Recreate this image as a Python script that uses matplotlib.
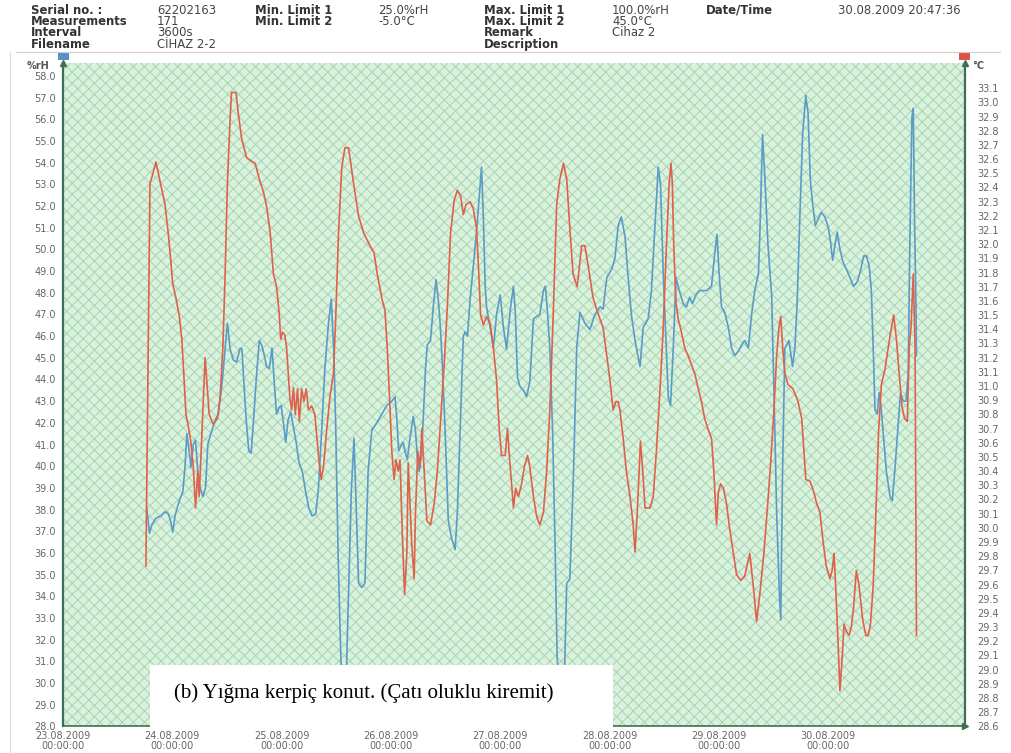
import matplotlib
matplotlib.use('Agg')
import matplotlib.pyplot as plt
from matplotlib.patches import Rectangle
from matplotlib.lines import Line2D

# hours counted from 23.08.2009 00:00:00, relative humidity (%rH, left axis)
blue_hours = [18.4, 19.0, 19.5, 20.4, 21.4, 22.4, 23.1, 23.6, 24.1, 24.6, 25.1, 25.7, 26.3, 26.8,
              27.2, 27.7, 28.1, 28.6, 29.1, 29.6, 30.1, 30.7, 31.3, 31.8, 32.6, 33.4, 34.1, 34.8,
              35.6, 36.1, 36.7, 37.4, 38.1, 38.9, 39.3, 39.7, 40.2, 40.8, 41.3, 41.8, 42.5, 43.1,
              43.7, 44.2, 44.7, 45.3, 45.9, 46.4, 46.9, 47.4, 47.9, 48.4, 48.9, 49.4, 50.0, 50.6,
              51.2, 51.8, 52.6, 53.3, 54.0, 54.7, 55.5, 56.1, 56.8, 57.5, 58.3, 58.9, 59.5, 59.9,
              60.4, 61.0, 61.5, 62.1, 62.7, 63.3, 63.9, 64.4, 64.9, 65.6, 66.3, 67.0, 67.8, 68.9,
              70.0, 71.1, 72.2, 72.9, 73.3, 73.7, 74.1, 74.7, 75.2, 75.6, 76.2, 76.9, 77.4, 77.8,
              78.2, 78.7, 79.1, 79.6, 80.0, 80.7, 81.3, 81.9, 82.4, 82.8, 83.3, 83.9, 84.6, 85.3,
              86.1, 86.6, 87.2, 87.9, 88.3, 88.8, 89.4, 90.1, 90.8, 91.6, 91.9, 92.3, 92.7, 93.0,
              93.8, 94.5, 95.2, 96.0, 96.7, 97.4, 98.2, 98.9, 99.3, 99.8, 100.3, 101.1, 101.8, 102.5,
              103.3, 104.0, 104.7, 105.5, 105.9, 106.3, 106.9, 107.5, 108.0, 108.5, 109.1, 110.0,
              110.6, 111.3, 112.1, 112.8, 113.5, 114.6, 115.7, 116.8, 117.9, 118.6, 119.4, 120.5,
              121.2, 121.9, 122.6, 123.4, 124.1, 124.8, 125.6, 126.7, 127.4, 128.5, 129.2, 130.0,
              130.7, 131.2, 131.8, 132.4, 132.9, 133.4, 134.0, 134.6, 135.3, 136.2, 136.9, 137.6,
              138.2, 139.0, 139.8, 140.6, 141.3, 142.4, 143.1, 143.6, 144.0, 144.6, 145.3, 146.1,
              146.8, 147.5, 148.3, 149.0, 149.7, 150.5, 151.2, 151.9, 152.7, 153.0, 153.6, 154.1,
              154.8, 155.6, 156.1, 156.7, 157.3, 157.6, 158.0, 158.5, 158.9, 159.4, 160.2, 160.7,
              161.2, 161.8, 162.4, 163.1, 163.6, 164.1, 164.6, 165.2, 165.8, 166.5, 167.3, 168.0,
              168.5, 169.0, 169.5, 170.0, 170.6, 171.3, 172.0, 172.8, 173.6, 174.4, 175.1, 175.8,
              176.4, 177.0, 177.5, 177.9, 178.3, 178.8, 179.2, 179.6, 180.2, 180.8, 181.6, 182.1,
              182.7, 183.4, 183.9, 184.5, 185.1, 185.6, 185.9, 186.4, 186.7, 187.0, 187.3, 187.4]
blue_rh = [38.05, 36.9, 37.3, 37.6, 37.7, 37.9, 37.8, 37.5, 36.95, 37.7, 38.1, 38.5, 38.8, 40.0,
           41.5, 40.7, 39.95, 41.0, 41.2, 39.75, 39.0, 38.6, 39.0, 41.0, 41.6, 42.1, 42.4, 43.55,
           45.45, 46.6, 45.4, 44.9, 44.8, 45.45, 45.4, 43.9, 42.2, 40.7, 40.6, 42.0, 44.2, 45.8,
           45.55, 45.1, 44.6, 44.5, 45.45, 43.8, 42.4, 42.7, 42.8, 42.0, 41.1, 42.1, 42.5, 41.8,
           41.1, 40.2, 39.7, 38.8, 38.05, 37.7, 37.8, 39.0, 41.65, 44.5, 46.6, 47.7, 45.1, 41.65,
           36.0, 31.2, 29.5, 29.5, 34.1, 38.8, 41.3, 37.9, 34.6, 34.4, 34.6, 39.75, 41.65, 42.0,
           42.4, 42.8, 43.0, 43.2, 42.2, 40.7, 40.9, 41.1, 40.6, 40.3, 41.3, 42.3, 41.65, 40.4,
           39.75, 40.5, 42.2, 44.5, 45.6, 45.8, 47.35, 48.6, 47.7, 46.6, 44.7, 41.65, 37.5, 36.7,
           36.15, 37.9, 41.65, 46.0, 46.2, 46.0, 47.7, 49.25, 50.8, 53.0, 53.8, 51.5, 48.3, 47.35,
           46.4, 45.45, 47.0, 47.9, 46.4, 45.4, 47.2, 48.3, 47.2, 44.1, 43.7, 43.5, 43.2, 43.9,
           46.8, 46.9, 47.0, 48.1, 48.3, 47.35, 45.45, 41.65, 36.9, 31.2, 29.3, 29.3,
           34.6, 34.8, 39.75, 45.45, 47.1, 46.6, 46.3, 47.0, 47.35, 47.25, 48.7, 49.1,
           49.6, 51.1, 51.5, 50.6, 48.7, 47.0, 45.8, 44.6, 46.4, 46.8, 48.1, 51.1,
           53.8, 53.0, 48.9, 45.8, 43.2, 42.8, 45.45, 48.7, 48.1, 47.5, 47.35, 47.8,
           47.5, 47.9, 48.1, 48.1, 48.1, 48.3, 49.8, 50.7, 49.1, 47.35, 47.1, 46.4,
           45.45, 45.1, 45.3, 45.6, 45.8, 45.45, 47.0, 48.1, 48.9, 50.6, 55.3, 53.4,
           50.2, 47.9, 43.55, 37.9, 34.1, 32.9, 39.75, 45.45, 45.6, 45.8, 44.6, 45.45,
           47.5, 51.5, 55.3, 57.1, 56.3, 53.2, 52.1, 51.1, 51.4, 51.7, 51.5, 51.05,
           50.4, 49.5, 50.2, 50.8, 50.0, 49.4, 49.1, 48.7, 48.3, 48.5, 49.0, 49.7,
           49.7, 49.25, 48.1, 45.45, 42.6, 42.4, 43.4, 42.8, 41.3, 39.75, 38.6, 38.4,
           39.95, 42.0, 43.4, 43.0, 43.0, 44.3, 49.6, 56.1, 56.5, 51.1, 47.35, 45.1]

# temperature (°C, right axis)
red_hours = [18.2, 19.1, 19.5, 20.4, 21.4, 22.4, 23.1, 23.6, 24.1, 24.8, 25.5, 26.1, 26.6, 27.0,
             27.5, 28.1, 28.6, 29.1, 29.6, 29.9, 30.3, 31.2, 31.7, 32.1, 33.0, 33.9, 34.5, 35.1,
             35.6, 36.1, 36.7, 37.0, 38.0, 38.5, 39.2, 40.3, 41.2, 42.2, 43.1, 44.0, 44.7, 45.5,
             46.2, 46.9, 47.5, 47.8, 48.2, 48.7, 49.1, 49.5, 49.8, 50.2, 50.6, 51.0, 51.5, 51.9,
             52.4, 52.9, 53.4, 53.9, 54.6, 55.3, 56.1, 56.7, 57.2, 57.9, 58.6, 59.4, 59.9, 60.5,
             61.2, 61.9, 62.7, 63.8, 64.9, 66.0, 67.4, 68.3, 69.0, 70.0, 70.7, 71.2, 71.7, 72.2,
             72.7, 73.1, 73.6, 74.0, 74.5, 75.0, 75.5, 75.8, 76.2, 76.6, 77.1, 77.4, 77.9, 78.4,
             78.8, 79.3, 79.9, 80.7, 81.5, 82.2, 82.9, 83.7, 84.4, 85.1, 85.9, 86.6, 87.3, 87.9,
             88.5, 89.4, 90.1, 90.8, 91.3, 91.7, 92.3, 93.0, 93.8, 94.5, 95.2, 95.8, 96.3, 97.1,
             97.6, 98.0, 98.5, 98.9, 99.4, 100.0, 100.7, 101.3, 102.0, 102.5, 103.3, 104.0, 104.7,
             105.5, 106.2, 106.9, 107.7, 108.4, 109.1, 109.9, 110.6, 111.3, 112.0, 112.9, 113.9,
             114.6, 115.3, 116.4, 117.5, 118.6, 119.4, 120.1, 120.8, 121.4, 121.9, 122.3, 123.0,
             123.7, 124.5, 125.2, 125.6, 126.1, 126.5, 126.8, 127.3, 127.8, 128.9, 129.6, 130.3,
             131.1, 131.8, 132.5, 133.1, 133.5, 133.8, 134.1, 134.6, 135.1, 135.8, 136.5, 137.3,
             138.0, 138.7, 139.5, 140.2, 140.9, 141.7, 142.4, 142.9, 143.5, 143.9, 144.4, 145.0,
             145.7, 146.4, 147.2, 147.9, 148.8, 149.7, 150.8, 151.6, 152.3, 153.0, 153.9, 154.6,
             155.4, 156.1, 156.7, 157.2, 157.6, 158.1, 158.5, 159.2, 160.3, 161.4, 162.2, 162.7,
             163.1, 164.0, 164.7, 165.5, 166.2, 166.9, 167.6, 168.4, 168.9, 169.3, 169.7, 170.2,
             170.6, 171.1, 171.5, 172.0, 172.6, 173.1, 173.6, 174.2, 174.8, 175.6, 176.3, 176.8,
             177.3, 177.9, 178.5, 179.1, 179.7, 180.5, 181.2, 181.9, 182.4, 183.0, 183.6, 184.2,
             184.8, 185.4, 185.8, 186.2, 186.7, 187.1, 187.4]
red_temp = [29.73, 32.43, 32.47, 32.58, 32.43, 32.28, 32.08, 31.91, 31.72, 31.62, 31.50, 31.33, 31.04, 30.80,
            30.72, 30.60, 30.43, 30.14, 30.40, 30.22, 30.51, 31.20, 30.98, 30.80, 30.73, 30.77, 30.92, 31.27,
            31.79, 32.43, 32.89, 33.07, 33.07, 32.92, 32.75, 32.61, 32.59, 32.57, 32.46, 32.37, 32.27, 32.08,
            31.79, 31.70, 31.50, 31.33, 31.38, 31.36, 31.27, 31.07, 30.92, 30.83, 30.99, 30.80, 30.98, 30.75,
            30.98, 30.89, 30.98, 30.83, 30.86, 30.80, 30.51, 30.34, 30.43, 30.69, 30.92, 31.09, 31.50, 32.08,
            32.54, 32.68, 32.68, 32.43, 32.20, 32.08, 31.99, 31.94, 31.79, 31.62, 31.53, 31.27, 30.92, 30.54,
            30.34, 30.48, 30.40, 30.48, 29.96, 29.53, 29.82, 30.46, 30.17, 29.87, 29.64, 30.11, 30.54, 30.43,
            30.70, 30.40, 30.05, 30.02, 30.17, 30.40, 30.75, 31.15, 31.56, 32.08, 32.31, 32.38, 32.34, 32.21,
            32.28, 32.30, 32.25, 32.11, 31.79, 31.50, 31.43, 31.49, 31.44, 31.27, 31.04, 30.69, 30.51, 30.51,
            30.70, 30.51, 30.31, 30.14, 30.28, 30.22, 30.31, 30.43, 30.51, 30.43, 30.22, 30.08, 30.02,
            30.11, 30.40, 30.83, 31.56, 32.28, 32.46, 32.57, 32.46, 32.11, 31.79, 31.70, 31.99,
            31.99, 31.85, 31.62, 31.51, 31.41, 31.21, 31.04, 30.83, 30.89, 30.89, 30.83, 30.63,
            30.40, 30.22, 30.02, 29.83, 30.11, 30.40, 30.61, 30.40, 30.14, 30.14, 30.22, 30.54,
            30.98, 31.41, 31.99, 32.43, 32.57, 32.43, 31.99, 31.59, 31.47, 31.38, 31.27, 31.21,
            31.15, 31.09, 30.98, 30.89, 30.77, 30.69, 30.63, 30.40, 30.02, 30.25, 30.31, 30.28,
            30.17, 29.99, 29.82, 29.67, 29.63, 29.66, 29.82, 29.58, 29.34, 29.53, 29.82, 30.11,
            30.46, 30.83, 31.21, 31.41, 31.49, 31.24, 31.09, 31.01, 30.98, 30.89, 30.77, 30.54,
            30.34, 30.33, 30.27, 30.17, 30.11, 29.90, 29.73, 29.64, 29.70, 29.82, 29.56, 29.18,
            28.85, 29.09, 29.32, 29.27, 29.24, 29.30, 29.44, 29.70, 29.59, 29.35, 29.24, 29.24,
            29.32, 29.59, 30.11, 30.69, 31.01, 31.12, 31.27, 31.41, 31.50, 31.33, 31.09, 30.86,
            30.77, 30.75, 31.27, 31.41, 31.79, 31.27, 29.24]

day_labels = ['23.08.2009', '24.08.2009', '25.08.2009', '26.08.2009',
              '27.08.2009', '28.08.2009', '29.08.2009', '30.08.2009']
rh_ticks = [28 + i for i in range(31)]
temp_ticks = [round(28.6 + 0.1 * i, 1) for i in range(46)]

# header table, one list per column (label columns are bold)
header_cols = [
    ['Serial no. :', 'Measurements', 'Interval', 'Filename'],
    ['62202163', '171', '3600s', 'CİHAZ 2-2'],
    ['Min. Limit 1', 'Min. Limit 2', '', ''],
    ['25.0%rH', '-5.0°C', '', ''],
    ['Max. Limit 1', 'Max. Limit 2', 'Remark', 'Description'],
    ['100.0%rH', '45.0°C', 'Cihaz 2', ''],
    ['Date/Time', '', '', ''],
    ['30.08.2009 20:47:36', '', '', ''],
]
caption = '(b) Yığma kerpiç konut. (Çatı oluklu kiremit)'

W, H = 1012, 753
def fx(px):
    return px / W
def fy(py):
    return 1 - py / H

plt.rcParams['font.family'] = ['DejaVu Sans']
plt.rcParams['hatch.linewidth'] = 0.7

fig = plt.figure(figsize=(W / 100, H / 100), dpi=100)
fig.patch.set_facecolor('white')

x0, x1, ytop, ybot = 63, 965, 63, 726.3
ax = fig.add_axes([fx(x0), fy(ybot), fx(x1 - x0), (ybot - ytop) / H])
ax.set_facecolor('#daf1de')
ax.add_patch(Rectangle((0, 0), 1, 1, transform=ax.transAxes, facecolor='none',
                       edgecolor='#a6d6b0', hatch='xxx', lw=0, zorder=0))

ax.plot(blue_hours, blue_rh, color='#5a9cc6', lw=1.2, zorder=3)
ax.set_xlim(0, 198.06)
ax.set_ylim(28, 58.6)

ax2 = ax.twinx()
ax2.plot(red_hours, red_temp, color='#e0614b', lw=1.2, zorder=3)
ax2.set_ylim(28.6, 33.278)

spine_col = '#3f6f52'
ax.spines['top'].set_visible(False)
ax2.spines['top'].set_visible(False)
ax2.spines['left'].set_visible(False)
ax2.spines['bottom'].set_visible(False)
ax.spines['right'].set_visible(False)
ax.spines['left'].set_color(spine_col)
ax.spines['left'].set_linewidth(1.6)
ax.spines['bottom'].set_color(spine_col)
ax.spines['bottom'].set_linewidth(1.2)
ax2.spines['right'].set_color(spine_col)
ax2.spines['right'].set_linewidth(1.6)

ax.set_yticks(rh_ticks)
ax.set_yticklabels(['%.1f' % v for v in rh_ticks])
ax.tick_params(axis='y', length=0, pad=5, labelsize=7, labelcolor='#666666')
ax2.set_yticks(temp_ticks)
ax2.set_yticklabels(['%.1f' % v for v in temp_ticks])
ax2.tick_params(axis='y', length=0, pad=9, labelsize=7, labelcolor='#666666')

ax.set_xticks([24 * i for i in range(len(day_labels))])
ax.set_xticklabels([d + '\n00:00:00' for d in day_labels], linespacing=0.95)
ax.tick_params(axis='x', length=0, pad=3.5, labelsize=7, labelcolor='#666666')

# axis arrows and channel markers
ax.plot([0], [1], marker='^', ms=5, color=spine_col, transform=ax.transAxes, clip_on=False, zorder=5)
ax2.plot([1], [1], marker='^', ms=5, color=spine_col, transform=ax2.transAxes, clip_on=False, zorder=5)
ax.plot([1], [0], marker='>', ms=5, color=spine_col, transform=ax.transAxes, clip_on=False, zorder=5)
fig.add_artist(Rectangle((fx(58), fy(60)), fx(11), 7 / H, facecolor='#5a8fc9', edgecolor='none'))
fig.add_artist(Rectangle((fx(959), fy(60)), fx(11), 7 / H, facecolor='#e0524a', edgecolor='none'))
fig.text(fx(27), fy(66), '%rH', fontsize=7, fontweight='bold', color='#555555', va='center')
fig.text(fx(972), fy(66), '°C', fontsize=7, fontweight='bold', color='#555555', va='center')

# header table
col_x = [31, 157, 255, 378, 484, 612, 706, 838]
for c, lines in enumerate(header_cols):
    bold = (c % 2 == 0)
    fig.text(fx(col_x[c]), fy(3.5), '\n'.join(lines), fontsize=8.4,
             fontweight='bold' if bold else 'normal', linespacing=0.84,
             color='#333333' if bold else '#444444', va='top', ha='left')
fig.add_artist(Line2D([fx(16), fx(1000)], [fy(51.5), fy(51.5)], color='#cfcfcf', lw=0.8))
fig.add_artist(Line2D([fx(10), fx(10)], [fy(51.5), fy(753)], color='#dddddd', lw=0.8))

# caption box over the plot
fig.add_artist(Rectangle((fx(150), fy(730)), fx(463), (730 - 665) / H,
                         facecolor='white', edgecolor='none', zorder=10))
fig.text(fx(174), fy(693), caption, fontsize=15, family='Liberation Serif',
         color='black', va='center', zorder=11)

fig.savefig('out.png', dpi=100)
